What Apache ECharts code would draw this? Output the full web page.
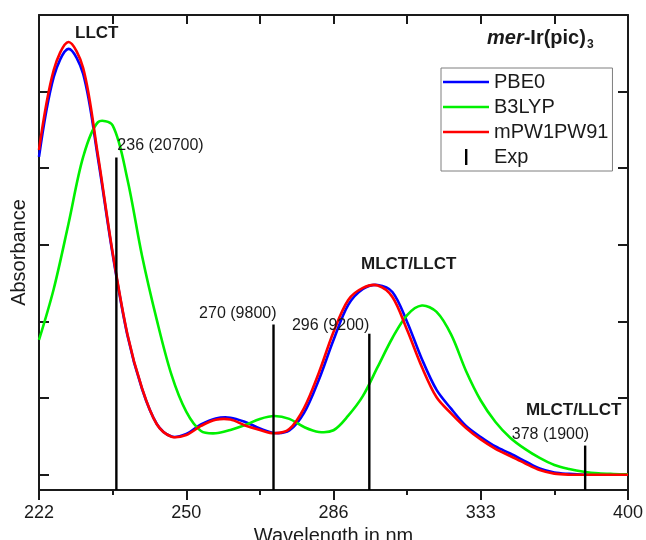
<!DOCTYPE html>
<html>
<head>
<meta charset="utf-8">
<script src="https://cdn.jsdelivr.net/npm/echarts@6/dist/echarts.min.js"></script>
<style>
  html, body { margin: 0; padding: 0; background: #ffffff; }
  #chart { width: 646px; height: 540px; }
</style>
</head>
<body>
<div id="chart"></div>
<script>
// Simulated absorption spectra of mer-Ir(pic)3, sampled on a wavenumber grid (cm^-1)
const wavenumber = [45000, 44500, 44000, 43500, 43000, 42500, 42000, 41500, 41000, 40500,
                    40000, 39500, 39000, 38500, 38000, 37500, 37000, 36500, 36000, 35500,
                    35000, 34500, 34000, 33500, 33000, 32500, 32000, 31500, 31000, 30500,
                    30000, 29500, 29000, 28500, 28000, 27500, 27000, 26500, 26000, 25500, 25000];

const pbe0 = [20740, 25960, 27790, 26150, 20670, 14400, 9120, 5590, 3310, 2490,
              2660, 3280, 3670, 3720, 3440, 3020, 2720, 2880, 4030, 6180,
              8790, 11080, 12120, 12380, 11920, 9970, 7550, 5530, 4290, 3180,
              2460, 1840, 1380, 890, 400, 140, 50, 0, 0, 0, 0];

const b3lyp = [8790, 12120, 16360, 20740, 23000, 22800, 19300, 14270, 10100, 6510,
               4110, 2850, 2700, 2920, 3240, 3640, 3830, 3640, 3110, 2790,
               2900, 3850, 5140, 7030, 8920, 10420, 11040, 10620, 9120, 6770,
               4840, 3440, 2410, 1680, 1090, 630, 370, 190, 85, 45, 25];

const mpw1pw91 = [21190, 26410, 28240, 26540, 20870, 14500, 9180, 5630, 3290, 2480,
                  2590, 3180, 3580, 3600, 3210, 2920, 2700, 2980, 4350, 6640,
                  9310, 11400, 12190, 12350, 11600, 9440, 7030, 5050, 3990, 3050,
                  2300, 1690, 1220, 740, 300, 70, 0, 0, 0, 0, 0];

// Experimental bands: wavelength (nm) and molar absorptivity
const expWavelength = [236, 270, 296, 378];
const expEpsilon = [20700, 9800, 9200, 1900];

const seriesNames = ['PBE0', 'B3LYP', 'mPW1PW91', 'Exp'];
const yTicks = [0, 5000, 10000, 15000, 20000, 25000];

const FONT = '"Liberation Sans", Arial, Helvetica, sans-serif';
const INK = '#1a1a1a';
const Y_MIN = -1000, Y_MAX = 30000;

const toNm = v => Math.round(1e7 / v);
const pairs = ys => wavenumber.map((v, i) => [v, ys[i]]);

// label placement for each experimental stick: [align, dx, dy]
const stickLabelPlace = [['left', 1, -12], ['right', 3, -11], ['right', 0, -8], ['right', 4, -11]];

// legend glyphs: a short horizontal stroke for the spectra, a vertical stick for the experiment
const LINE_ICON = 'path://M0,0L0,0M0,6.7L46,6.7L46,9.3L0,9.3ZM46,16L46,16';
const STICK_ICON = 'path://M0,0L0,0M22,0L24.4,0L24.4,16L22,16ZM46,16L46,16';

const chart = echarts.init(document.getElementById('chart'), null, { renderer: 'canvas' });

// Each spectrum is drawn as one smooth curve through its sampled points,
// mapped to pixels by the cartesian coordinate system.
const curveSeries = (name, ys, color) => ({
  name, type: 'custom', coordinateSystem: 'cartesian2d', z: 2,
  itemStyle: { color },
  encode: { x: 0, y: 1 },
  data: pairs(ys),
  renderItem: (params, api) => {
    if (params.dataIndex !== 0) return null;
    const points = wavenumber.map((v, i) => api.coord([v, ys[i]]));
    return {
      type: 'polyline',
      shape: { points, smooth: 0.33 },
      style: { stroke: color, lineWidth: 2.6, fill: null, lineJoin: 'round' }
    };
  }
});

const option = {
  backgroundColor: '#ffffff',
  animation: false,
  grid: { left: 39, right: 18, top: 15, bottom: 50, containLabel: false, outerBoundsMode: 'none' },
  xAxis: [
    {
      type: 'value', position: 'bottom', min: 25000, max: 45000, interval: 5000, inverse: true,
      axisLine: { show: true, onZero: false, lineStyle: { color: INK, width: 2 } },
      axisTick: { show: true, inside: false, length: 10, lineStyle: { color: INK, width: 2 } },
      minorTick: { show: true, splitNumber: 2, length: 5, lineStyle: { color: INK, width: 2 } },
      axisLabel: { show: true, margin: 14, color: INK, fontSize: 18, fontFamily: FONT, formatter: v => String(toNm(v)) },
      splitLine: { show: false }, minorSplitLine: { show: false },
      name: 'Wavelength in nm', nameLocation: 'middle', nameGap: 30,
      nameTextStyle: { color: INK, fontSize: 20, fontFamily: FONT }
    },
    {
      type: 'value', position: 'top', min: 25000, max: 45000, interval: 2500, inverse: true,
      axisLine: { show: true, onZero: false, lineStyle: { color: INK, width: 2 } },
      axisTick: { show: true, inside: true, length: 9, lineStyle: { color: INK, width: 2 } },
      axisLabel: { show: false }, splitLine: { show: false }
    }
  ],
  yAxis: [
    {
      type: 'value', position: 'left', min: Y_MIN, max: Y_MAX,
      axisLine: { show: true, onZero: false, lineStyle: { color: INK, width: 2 } },
      axisTick: { show: true, inside: true, length: 10, customValues: yTicks, lineStyle: { color: INK, width: 2 } },
      axisLabel: { show: false, customValues: yTicks }, splitLine: { show: false },
      name: 'Absorbance', nameLocation: 'middle', nameGap: 10,
      nameTextStyle: { color: INK, fontSize: 20, fontFamily: FONT }
    },
    {
      type: 'value', position: 'right', min: Y_MIN, max: Y_MAX,
      axisLine: { show: true, onZero: false, lineStyle: { color: INK, width: 2 } },
      axisTick: { show: true, inside: true, length: 10, customValues: yTicks, lineStyle: { color: INK, width: 2 } },
      axisLabel: { show: false, customValues: yTicks }, splitLine: { show: false }
    }
  ],
  legend: {
    orient: 'vertical', left: 441, top: 68,
    itemWidth: 46, itemHeight: 16, itemGap: 5,
    padding: [4, 4, 4, 2],
    borderColor: '#7f7f7f', borderWidth: 1, backgroundColor: '#ffffff',
    textStyle: { color: INK, fontSize: 20, fontFamily: FONT },
    data: [
      { name: seriesNames[0], icon: LINE_ICON },
      { name: seriesNames[1], icon: LINE_ICON },
      { name: seriesNames[2], icon: LINE_ICON },
      { name: seriesNames[3], icon: STICK_ICON }
    ]
  },
  series: [
    curveSeries(seriesNames[0], pbe0, '#0000ff'),
    curveSeries(seriesNames[1], b3lyp, '#00f000'),
    curveSeries(seriesNames[2], mpw1pw91, '#ff0000'),
    {
      name: seriesNames[3], type: 'custom', coordinateSystem: 'cartesian2d', z: 5,
      itemStyle: { color: '#000000' },
      encode: { x: 0, y: 1 },
      data: expWavelength.map((w, i) => [1e7 / w, expEpsilon[i], w]),
      renderItem: (params, api) => {
        const v = api.value(0), eps = api.value(1), nm = api.value(2);
        const top = api.coord([v, eps]);
        const bottom = api.coord([v, Y_MIN]);
        const place = stickLabelPlace[params.dataIndex];
        return {
          type: 'group',
          children: [
            { type: 'line', shape: { x1: top[0], y1: top[1], x2: bottom[0], y2: bottom[1] },
              style: { stroke: '#000000', lineWidth: 2.4 } },
            { type: 'text',
              style: { x: top[0] + place[1], y: top[1] + place[2], text: nm + ' (' + eps + ')',
                       align: place[0], verticalAlign: 'middle', fill: INK, font: '16px ' + FONT } }
          ]
        };
      }
    }
  ],
  graphic: [
    { type: 'text', left: 75, top: 25,
      style: { text: 'LLCT', fill: INK, font: 'bold 17px ' + FONT } },
    { type: 'text', left: 361, top: 256,
      style: { text: 'MLCT/LLCT', fill: INK, font: 'bold 17px ' + FONT } },
    { type: 'text', left: 526, top: 402,
      style: { text: 'MLCT/LLCT', fill: INK, font: 'bold 17px ' + FONT } },
    { type: 'text', left: 487, top: 28,
      style: {
        text: '{i|mer}{b|-Ir(pic)}{s|3}',
        rich: {
          i: { fontStyle: 'italic', fontWeight: 'bold', fontSize: 20, fontFamily: FONT, fill: INK, color: INK },
          b: { fontWeight: 'bold', fontSize: 20, fontFamily: FONT, fill: INK, color: INK },
          s: { fontWeight: 'bold', fontSize: 12, fontFamily: FONT, fill: INK, color: INK, padding: [14, 0, 0, 1] }
        }
      } }
  ]
};

chart.setOption(option);
</script>
</body>
</html>
